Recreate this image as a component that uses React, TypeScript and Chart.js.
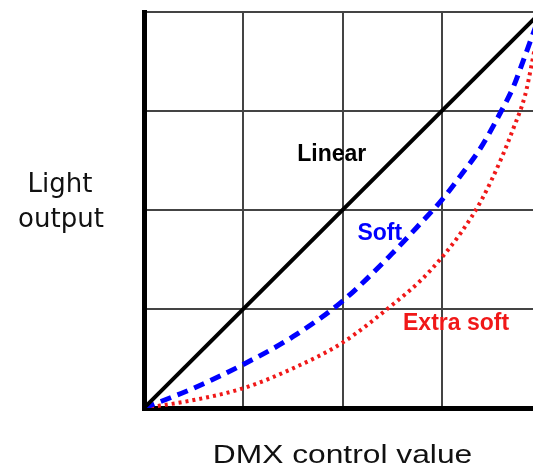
import React, { useEffect, useRef } from "react";
import { Chart, registerables } from "chart.js";

Chart.register(...registerables);

const linearX = [0, 100];
const linearValues = [0, 100];
const softX = [0, 12.5, 25, 37.5, 50, 62.5, 70, 75, 80, 85, 90, 93, 96, 98, 100];
const softValues = [0, 5, 11, 18, 27, 39, 47, 52.5, 59, 66, 75, 81, 89, 94.5, 100];
const extraSoftX = [0, 12.5, 25, 37.5, 50, 62.5, 70, 75, 80, 85, 90, 93, 96, 97.5, 99, 100];
const extraSoftValues = [0, 2, 5, 10, 16.5, 26, 32.5, 38, 44.5, 52.5, 63, 70.5, 79, 86, 94, 100];
const seriesLabels = ["Linear", "Soft", "Extra soft"];
const labelPositions = [
  [47.3, 63.9],
  [59.4, 43.9],
  [78.6, 21.3],
];
const xTicks = [0, 25, 50, 75, 100];
const yTicks = [0, 25, 50, 75, 100];

const BLUE = "#0000ff";
const RED = "rgb(240,24,24)";
const colors = ["#000000", BLUE, RED];

const textPlugin = {
  id: "textPlugin",
  afterDatasetsDraw(chart: any) {
    const ctx = chart.ctx;
    const xs = chart.scales.x;
    const ys = chart.scales.y;
    const area = chart.chartArea;
    ctx.save();
    ctx.textAlign = "center";
    ctx.textBaseline = "middle";
    ctx.font = "bold 23px 'Liberation Sans', Arial, sans-serif";
    seriesLabels.forEach((lab, i) => {
      ctx.fillStyle = colors[i];
      ctx.fillText(lab, xs.getPixelForValue(labelPositions[i][0]), ys.getPixelForValue(labelPositions[i][1]));
    });
    // y axis title
    ctx.fillStyle = "#111";
    ctx.textBaseline = "alphabetic";
    ctx.font = "26px 'DejaVu Sans', sans-serif";
    const midY = (area.top + area.bottom) / 2;
    ctx.fillText("Light", 60, midY - 18);
    ctx.fillText("output", 61, midY + 17);
    // x axis title
    ctx.font = "25px 'Liberation Sans', Arial, sans-serif";
    ctx.translate(xs.getPixelForValue(50), area.bottom + 55);
    ctx.scale(1.27, 1);
    ctx.fillText("DMX control value", 0, 0);
    ctx.restore();
  },
};

export default function App() {
  const ref = useRef<HTMLCanvasElement | null>(null);
  useEffect(() => {
    if (!ref.current) return;
    const mk = (xs: number[], vals: number[]) => xs.map((x, i) => ({ x, y: vals[i] }));
    const chart = new Chart(ref.current, {
      type: "line",
      data: {
        datasets: [
          {
            label: seriesLabels[0],
            data: mk(linearX, linearValues),
            borderColor: colors[0],
            borderWidth: 4,
            pointRadius: 0,
          },
          {
            label: seriesLabels[1],
            data: mk(softX, softValues),
            borderColor: colors[1],
            borderWidth: 5,
            borderDash: [11, 7],
            pointRadius: 0,
            cubicInterpolationMode: "monotone",
          },
          {
            label: seriesLabels[2],
            data: mk(extraSoftX, extraSoftValues),
            borderColor: colors[2],
            borderWidth: 4,
            borderDash: [3, 4],
            pointRadius: 0,
            cubicInterpolationMode: "monotone",
          },
        ],
      },
      options: {
        animation: false,
        responsive: false,
        devicePixelRatio: 1,
        layout: { padding: { left: 144, top: 12, bottom: 59, right: 7 } },
        plugins: { legend: { display: false }, tooltip: { enabled: false } },
        scales: {
          x: {
            type: "linear",
            min: 0,
            max: 100,
            afterBuildTicks: (s: any) => {
              s.ticks = xTicks.map((v) => ({ value: v }));
            },
            ticks: { display: false },
            grid: { color: "#444", lineWidth: 2, drawTicks: false },
            border: { color: "#000", width: 5 },
          },
          y: {
            type: "linear",
            min: 0,
            max: 100,
            afterBuildTicks: (s: any) => {
              s.ticks = yTicks.map((v) => ({ value: v }));
            },
            ticks: { display: false },
            grid: { color: "#444", lineWidth: 2, drawTicks: false },
            border: { color: "#000", width: 5 },
          },
        },
      },
      plugins: [textPlugin],
    });
    return () => chart.destroy();
  }, []);
  return (
    <div
      style={{
        position: "fixed",
        left: 0,
        top: 0,
        width: 533,
        height: 467,
        overflow: "hidden",
        background: "#fff",
      }}
    >
      <canvas ref={ref} width={548} height={467} style={{ display: "block", width: 548, height: 467 }} />
    </div>
  );
}
